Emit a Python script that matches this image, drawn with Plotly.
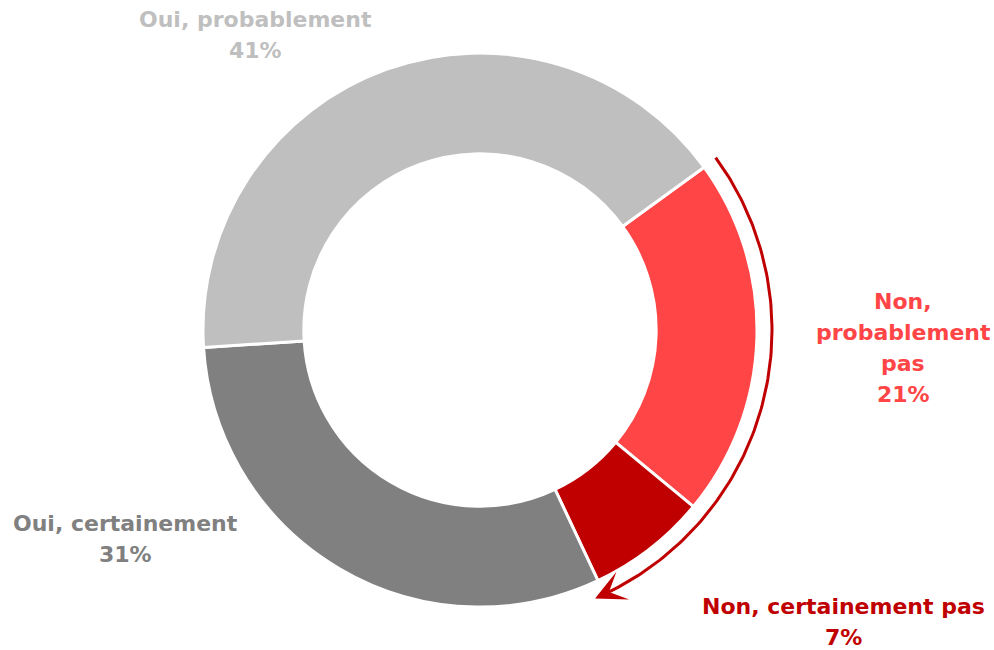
import numpy as np
import plotly.graph_objects as go

# Survey answers, in clockwise order starting at the upper-right boundary
labels = ["Non, probablement pas", "Non, certainement pas", "Oui, certainement", "Oui, probablement"]
values = [21, 7, 31, 41]
colors = ["#FF4545", "#C00000", "#808080", "#BFBFBF"]
label_lines = [["Non,", "probablement", "pas"], ["Non, certainement pas"],
               ["Oui, certainement"], ["Oui, probablement"]]

W, H = 994, 650
CX, CY, R_OUT = 480, 330, 277
ROTATION = 54
LINE_PITCH = 31

fig = go.Figure()

fig.add_trace(go.Pie(
    labels=labels,
    values=values,
    sort=False,
    direction="clockwise",
    rotation=ROTATION,
    hole=0.636,
    marker=dict(colors=colors, line=dict(color="white", width=3)),
    textinfo="none",
    hoverinfo="label+percent",
    showlegend=False,
    domain=dict(x=[(CX - R_OUT) / W, (CX + R_OUT) / W],
                y=[(H - CY - R_OUT) / H, (H - CY + R_OUT) / H]),
))

# Curved arrow running outside the two "Non" slices
non_share = values[0] + values[1]
a0 = ROTATION - 0.2
a1 = ROTATION + non_share * 3.6 + 2.0
R_ARC = 292
ang = np.radians(np.linspace(a0, a1, 120))
arc_x = CX + R_ARC * np.sin(ang)
arc_y = CY - R_ARC * np.cos(ang)
fig.add_trace(go.Scatter(
    x=arc_x[:-3], y=arc_y[:-3], mode="lines",
    line=dict(color="#C00000", width=3),
    hoverinfo="skip", showlegend=False,
))
tail = np.radians(a1 - 3.0)
fig.add_annotation(
    x=arc_x[-1], y=arc_y[-1], xref="x", yref="y",
    ax=CX + R_ARC * np.sin(tail), ay=CY - R_ARC * np.cos(tail),
    axref="x", ayref="y", text="", showarrow=True,
    arrowhead=3, arrowsize=1.7, arrowwidth=3, arrowcolor="#C00000", standoff=0,
)

# Category labels with percentages, one annotation per text line
label_pos = [(903, 348), (843, 622), (125, 539), (255, 35)]
for lines, v, c, (px, py) in zip(label_lines, values, colors, label_pos):
    rows = lines + [f"{v}%"]
    top = py - (len(rows) - 1) * LINE_PITCH / 2
    for i, row in enumerate(rows):
        fig.add_annotation(
            x=px, y=top + i * LINE_PITCH, xref="x", yref="y",
            text=row, showarrow=False,
            xanchor="center", yanchor="middle",
            font=dict(family="DejaVu Sans", size=22, color=c, weight="bold"),
        )

fig.update_layout(
    width=W, height=H,
    margin=dict(l=0, r=0, t=0, b=0),
    paper_bgcolor="white", plot_bgcolor="rgba(0,0,0,0)",
    xaxis=dict(range=[0, W], visible=False, fixedrange=True),
    yaxis=dict(range=[H, 0], visible=False, fixedrange=True),
)

fig.write_html("out.html")
